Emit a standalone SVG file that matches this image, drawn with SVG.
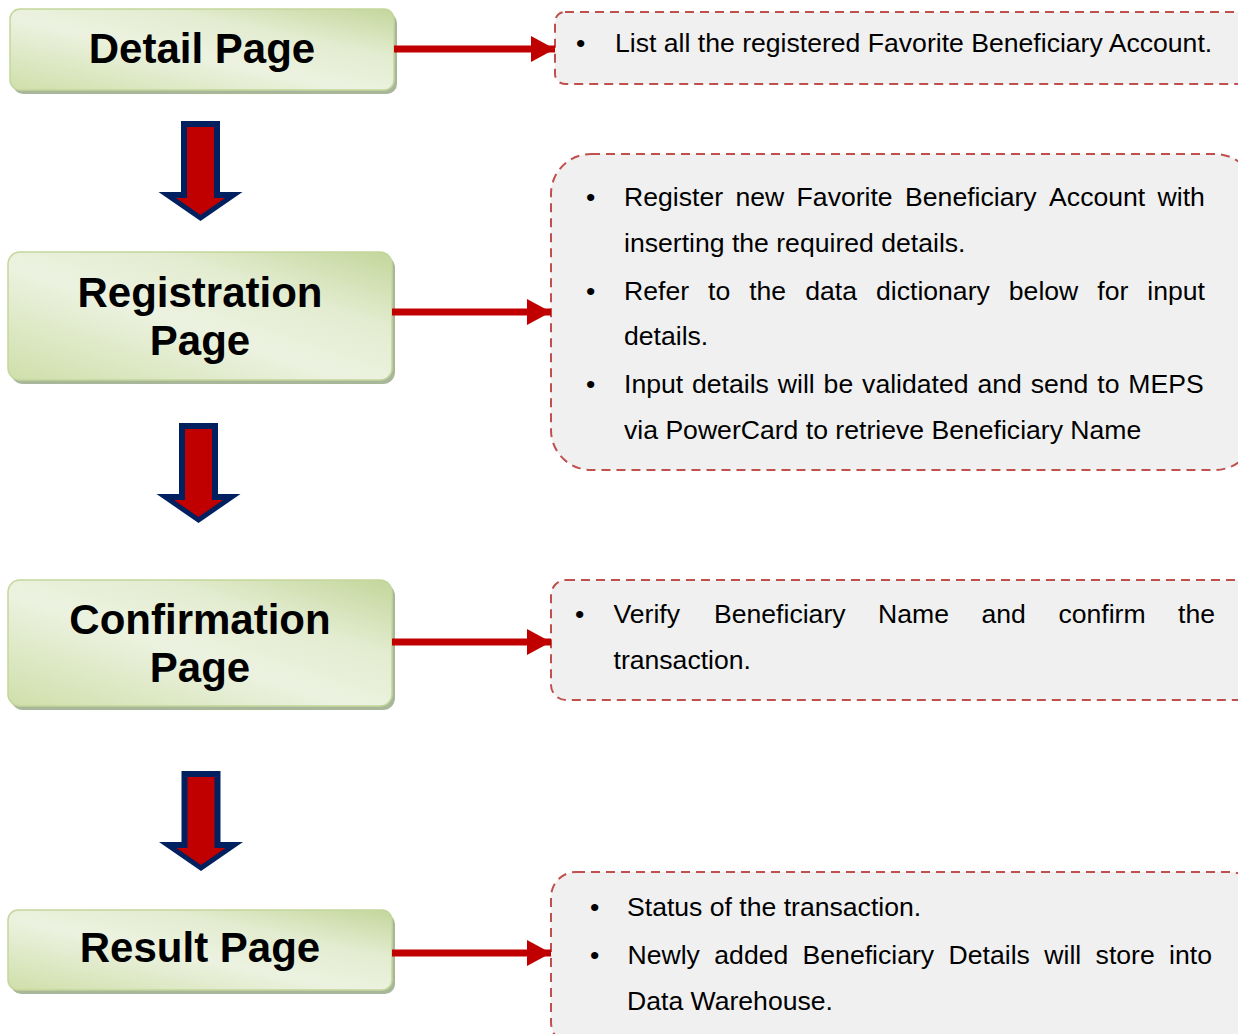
<svg xmlns="http://www.w3.org/2000/svg" width="1238" height="1034" viewBox="0 0 1238 1034">
<defs>
<linearGradient id="g" x1="0" y1="1" x2="1" y2="0">
<stop offset="0" stop-color="#cfdfaa"/>
<stop offset="0.45" stop-color="#ecf2e0"/>
<stop offset="0.7" stop-color="#e3ecd0"/>
<stop offset="1" stop-color="#c3d69b"/>
</linearGradient>
<marker id="ah" markerWidth="24" markerHeight="26" refX="24" refY="13" orient="auto" markerUnits="userSpaceOnUse">
<path d="M0,0 L24,13 L0,26 Z" fill="#c00000"/>
</marker>
<g id="down">
<polygon points="-19.5,0 19.5,0 19.5,71 42,71 0,100 -42,71 -19.5,71" fill="#002060"/>
<polygon points="-13.5,6 13.5,6 13.5,77 24.6,77 0,94 -24.6,77 -13.5,77" fill="#c00000"/>
</g>
</defs>
<style>
.node{fill:url(#g);stroke:#c3d69b;stroke-width:1.5}
.shadow{fill:#a8b699}
.title{font-family:"Liberation Sans",Arial,sans-serif;font-weight:bold;font-size:42px;fill:#000;text-anchor:middle}
.desc{fill:#f0f0f0;stroke:#c0504d;stroke-width:2;stroke-dasharray:9 6}
.t{font-family:"Liberation Sans",Arial,sans-serif;font-size:26.6px;fill:#000}
.conn{stroke:#c00000;stroke-width:7;fill:none}
</style>

<g id="node-detail">
<rect class="shadow" x="13" y="13" width="384" height="81" rx="10"/>
<rect class="node" x="10" y="9" width="384" height="81" rx="10"/>
<text class="title" x="202" y="63">Detail Page</text>
</g>
<g id="node-registration">
<rect class="shadow" x="11" y="256" width="384" height="128" rx="12"/>
<rect class="node" x="8" y="252" width="384" height="128" rx="12"/>
<text class="title" x="200" y="307">Registration</text>
<text class="title" x="200" y="355">Page</text>
</g>
<g id="node-confirmation">
<rect class="shadow" x="11" y="584" width="384" height="126" rx="12"/>
<rect class="node" x="8" y="580" width="384" height="126" rx="12"/>
<text class="title" x="200" y="634">Confirmation</text>
<text class="title" x="200" y="682">Page</text>
</g>
<g id="node-result">
<rect class="shadow" x="11" y="914" width="384" height="80" rx="10"/>
<rect class="node" x="8" y="910" width="384" height="80" rx="10"/>
<text class="title" x="200" y="962">Result Page</text>
</g>

<g id="desc-detail">
<rect class="desc" x="555" y="12" width="700" height="72" rx="10"/>
<text class="t" x="576" y="52">•</text>
<text class="t" x="615" y="52">List all the registered Favorite Beneficiary Account.</text>
</g>
<g id="desc-registration">
<rect class="desc" x="551" y="154" width="704" height="316" rx="40"/>
<text class="t" x="586" y="206">•</text>
<text class="t" y="206"><tspan x="624">Register</tspan><tspan x="735.4">new</tspan><tspan x="796.6">Favorite</tspan><tspan x="905.1">Beneficiary</tspan><tspan x="1049.1">Account</tspan><tspan x="1157.6">with</tspan></text>
<text class="t" x="624" y="252">inserting the required details.</text>
<text class="t" x="586" y="300">•</text>
<text class="t" y="300"><tspan x="624">Refer</tspan><tspan x="708">to</tspan><tspan x="749.2">the</tspan><tspan x="805.2">data</tspan><tspan x="876">dictionary</tspan><tspan x="1008.8">below</tspan><tspan x="1097.3">for</tspan><tspan x="1147.3">input</tspan></text>
<text class="t" x="624" y="345">details.</text>
<text class="t" x="586" y="393">•</text>
<text class="t" x="624" y="393" word-spacing="1.5">Input details will be validated and send to MEPS</text>
<text class="t" x="624" y="439">via PowerCard to retrieve Beneficiary Name</text>
</g>
<g id="desc-confirmation">
<rect class="desc" x="551" y="580" width="704" height="120" rx="15"/>
<text class="t" x="575" y="623">•</text>
<text class="t" y="623"><tspan x="613.5">Verify</tspan><tspan x="714">Beneficiary</tspan><tspan x="878.1">Name</tspan><tspan x="981.5">and</tspan><tspan x="1058.4">confirm</tspan><tspan x="1178.1">the</tspan></text>
<text class="t" x="613.5" y="669">transaction.</text>
</g>
<g id="desc-result">
<rect class="desc" x="551" y="872" width="704" height="175" rx="25"/>
<text class="t" x="590" y="916">•</text>
<text class="t" x="627" y="916">Status of the transaction.</text>
<text class="t" x="590" y="964">•</text>
<text class="t" y="964"><tspan x="627.5">Newly</tspan><tspan x="714.3">added</tspan><tspan x="802.6">Beneficiary</tspan><tspan x="948.6">Details</tspan><tspan x="1044.3">will</tspan><tspan x="1095.6">store</tspan><tspan x="1169.1">into</tspan></text>
<text class="t" x="627" y="1010">Data Warehouse.</text>
</g>

<g id="connectors">
<line class="conn" x1="394" y1="49" x2="555" y2="49" marker-end="url(#ah)"/>
<line class="conn" x1="392" y1="312" x2="551" y2="312" marker-end="url(#ah)"/>
<line class="conn" x1="392" y1="642" x2="551" y2="642" marker-end="url(#ah)"/>
<line class="conn" x1="392" y1="953" x2="551" y2="953" marker-end="url(#ah)"/>
<use href="#down" transform="translate(200.5,121)"/>
<use href="#down" transform="translate(198.5,423)"/>
<use href="#down" transform="translate(201,771)"/>
</g>
</svg>
